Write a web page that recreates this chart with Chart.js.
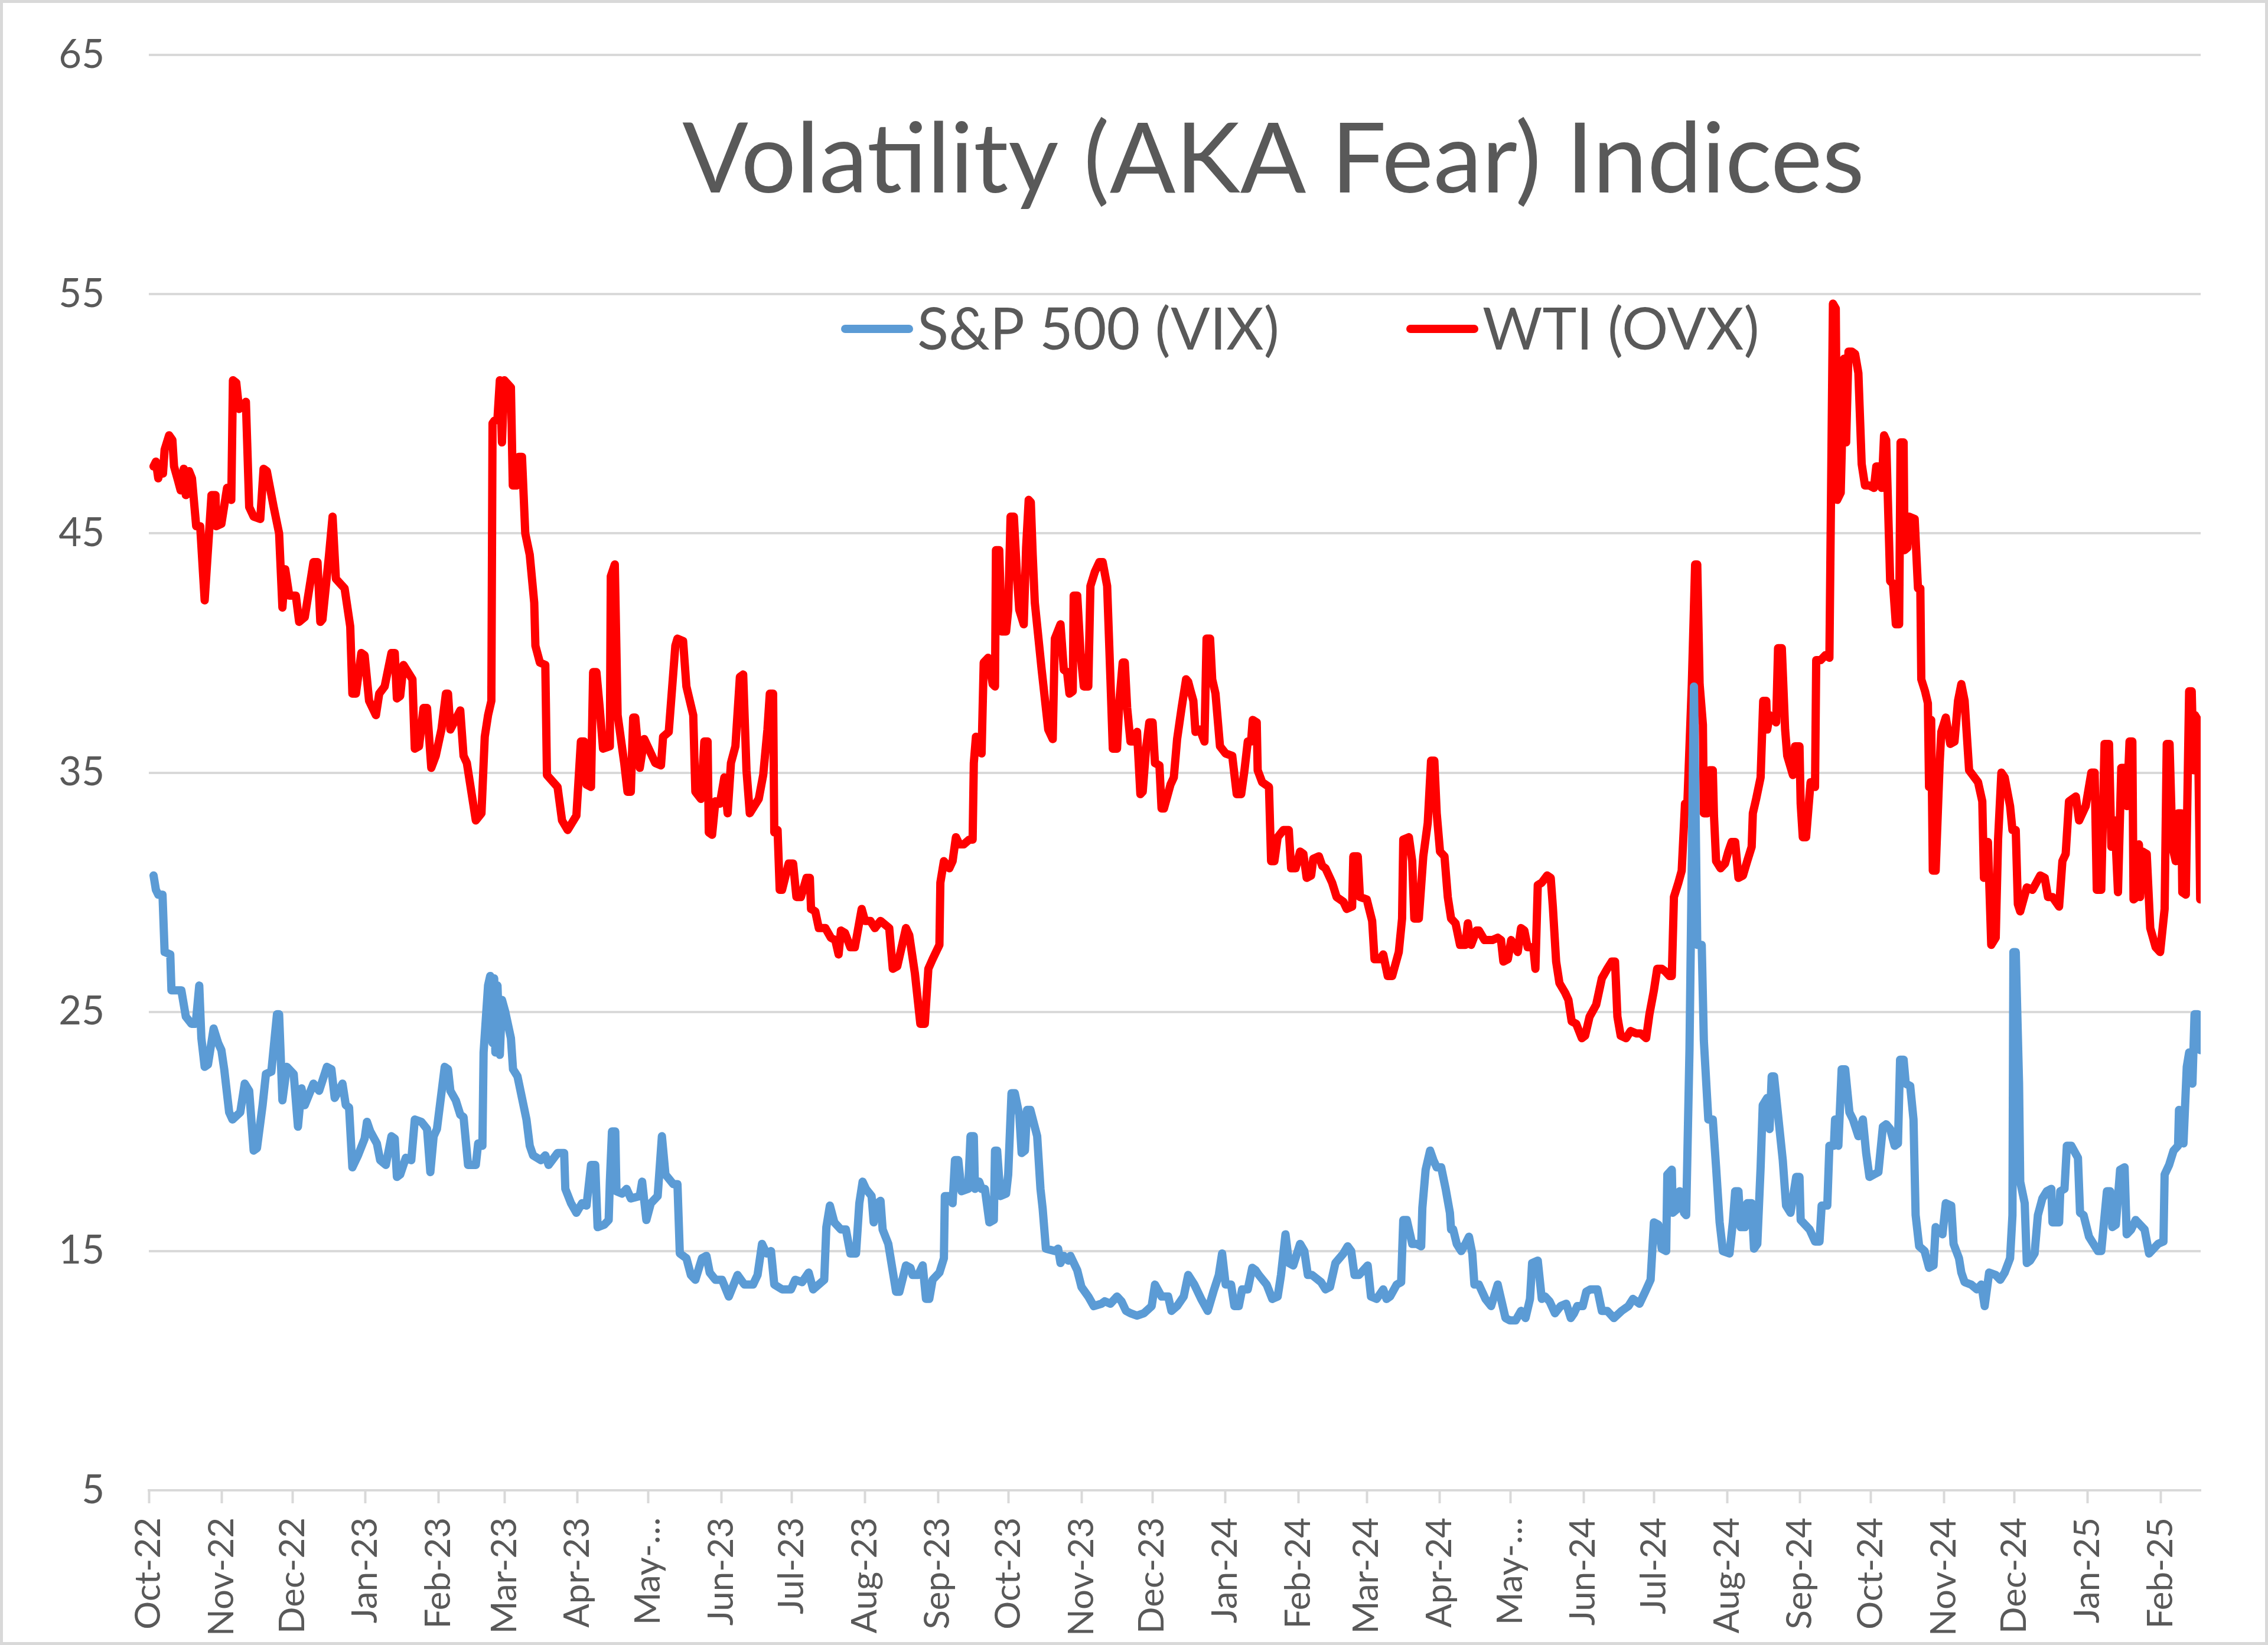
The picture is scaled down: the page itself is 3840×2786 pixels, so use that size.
<!DOCTYPE html>
<html>
<head>
<meta charset="utf-8">
<script src="https://cdn.jsdelivr.net/npm/chart.js@4/dist/chart.umd.min.js"></script>
<style>
  html, body { margin: 0; padding: 0; background: #fff; }
  canvas { display: block; }
</style>
</head>
<body>
<canvas id="volChart" width="3840" height="2786"></canvas>
<script>
// month tick labels, one per month starting Oct 2022 (Excel cut "May" labels short)
const monthLabels = [
  "Oct-22", "Nov-22", "Dec-22", "Jan-23", "Feb-23", "Mar-23", "Apr-23", "May-\u2026",
  "Jun-23", "Jul-23", "Aug-23", "Sep-23", "Oct-23", "Nov-23", "Dec-23", "Jan-24",
  "Feb-24", "Mar-24", "Apr-24", "May-\u2026", "Jun-24", "Jul-24", "Aug-24", "Sep-24",
  "Oct-24", "Nov-24", "Dec-24", "Jan-25", "Feb-25"
];

// x = days since 1 Oct 2022
const vixDays = [
  2, 3, 4, 5.8, 6.7, 9.1, 9.6, 13.8, 15.7, 18.1, 19.9, 21.4, 22.3, 23.7, 25.1, 27.5, 29.4, 30.8, 32, 34.1,
  35.5, 38.8, 40.7, 42.6, 44.5, 45.9, 48.3, 49.7, 52, 54.4, 55.3, 56.7, 58.6, 61.5, 63.3, 64.8, 66.2, 69.9, 72.3, 75.6,
  77.5, 78.9, 82.2, 83.6, 85, 86.4, 88.8, 91.6, 92.6, 94, 96.8, 98.2, 100.6, 103, 104.4, 105.3, 106.7, 109.1, 111.4, 112.9,
  115.7, 118.1, 119.5, 120.9, 122.3, 125.6, 127, 128, 130.3, 132.2, 133.6, 135.5, 138.8, 139.8, 141.6, 142.1, 144, 144.9, 145.9,
  146.6, 147.1, 148, 149, 149.9, 151.3, 153.7, 154.6, 156.5, 160.3, 161.7, 163.1, 166.4, 168.3, 169.7, 173.5, 176.3, 176.8, 179.2, 181.5,
  183.9, 185.8, 187.7, 189.5, 190.5, 193.3, 195.2, 195.7, 196.6, 198, 198.5, 200.9, 202.8, 204.6, 208.4, 209.4, 211.2, 213.1, 216, 217.8,
  219.3, 222.6, 224.4, 225.4, 228.2, 230.1, 232, 234.8, 236.7, 238.1, 240.5, 243.3, 246.2, 249.9, 252.8, 256.5, 258.4, 260.3, 262.2, 264.1,
  265.5, 268.8, 272.6, 274.4, 277.3, 280.1, 282, 286.7, 287.6, 289.1, 291, 293.8,
  295.9, 297.8, 300.2, 301.6, 303, 304.4, 306.8, 307.7, 309.2, 310.6, 311.5, 313.9, 317.2, 318.6, 321.4, 323.3, 324.2, 326.6, 328.5, 329.9,
  331.3, 332.7, 335.6, 337.5, 337.9, 339.8, 341.2, 342.2, 343.6, 345, 347.8, 348.8, 350.2, 350.7, 352.5, 353.5, 354.9, 356.8, 358.7, 359.2,
  360.1, 361.5, 363.9, 364.8, 366.2, 367.6, 369.5, 370.5, 371.9, 372.8, 374.2, 377.1, 378.5, 379.4, 380.8, 384.6, 386, 387, 388.4, 390.3,
  391.2, 394.1, 395.9, 398.8, 401.1, 404.4, 405.8, 408.2, 411, 412.9, 414.8, 416.7, 419.5, 422.4, 425.7, 427.1, 429.9, 432.7, 434.1, 436.5,
  439.3, 441.2,
  443.8, 446.7, 449.5, 451.9, 454.2, 455.6, 457.1, 459.4, 460.8, 462.7, 464.1, 466.5, 468.4, 469.8, 471.2, 474.5, 476.9, 479.2, 480.6, 482.5,
  484, 485.8, 488.7, 490.5, 492, 493.8, 497.6, 499.5, 501.4, 503.7, 507.1, 508.9, 510.4, 511.8, 513.7, 517.4, 518.8, 521.2, 524, 525.4,
  526.9, 529.7, 531.6, 532.5, 534, 535.4, 536.3, 538.2, 540.1, 540.6, 542, 543.9, 545.3, 546.7, 548.6, 550.5, 552.3, 552.8, 553.7, 555.2,
  557.1, 558.9, 560.4, 561.8, 562.7, 564.6, 567.4, 569.8, 572.6, 574, 575.9, 577.8, 580.2, 582.5, 584.4, 586.3, 587.2, 589.6,
  591.3, 592.7, 594.6, 596.9, 599.3, 601.7, 603.6, 605, 606.4, 608.7, 610.2, 612, 614.9, 616.8, 619.1, 621.9, 625.2, 628.1, 630, 632.8,
  635.2, 637.5, 638.9, 640.8, 642.2, 644.1, 644.6, 646.5, 646.9, 649.3, 649.8, 651.7, 652.6, 654, 655.9, 657.3, 659.2, 660.1, 662, 663.9,
  665.3, 666.8, 668.2, 671, 672.4, 673.4, 674.8, 675.7, 677.6, 678.5, 680.4, 681.4, 682.8, 684.2, 685.1, 687, 688, 688.9, 689.9, 691.8,
  693.6, 695, 696.9, 699.3, 700.7, 701.2, 705, 707.3, 709.2, 710.1, 712.5, 713.4, 715.3, 715.8, 717.2, 718.6, 720.1, 721.9, 723.4, 725.7,
  727.6, 729, 730.4, 732.3, 734.2, 736.1, 737.5,
  739.2, 741.1, 742.5, 743.4, 744.9, 745.8, 747.7, 749.1, 750, 751.5, 753.8, 755.7, 757.6, 758.5, 761.4, 762.8, 765.1, 766.1, 768.4, 769.4,
  770.8, 773.6, 776, 777.9, 779.3, 781.2, 784, 785.9, 787.8, 790.1, 791.1, 791.5, 792.5, 793.9, 794.4, 796.3, 797.2, 798.6, 800.5, 801.9,
  803.8, 805.7, 807.6, 808.1, 810.9, 811.4, 813.2, 814.2, 816.1, 818.9, 819.8, 821.3, 823.6, 827.4, 828.8, 831.2, 832.6, 833.5, 835, 836.8,
  838.7, 839.6, 841.5, 843.4, 847.2, 849.1, 852.9, 855.2, 855.7, 857.6, 859.5, 861.4, 861.8, 863.7, 865.1, 866.1, 867.5, 868.4, 869.8, 870.8
];
const vixValues = [
  30.7, 30.1, 29.9, 29.9, 27.5, 27.4, 25.9, 25.9, 24.8, 24.5, 24.5, 26.1, 23.9, 22.7, 22.8, 24.3, 23.7, 23.4, 22.6, 20.8,
  20.5, 20.8, 22.0, 21.7, 19.2, 19.3, 21.1, 22.4, 22.5, 24.9, 24.9, 21.3, 22.7, 22.4, 20.2, 21.8, 21.1, 22.0, 21.7, 22.7,
  22.6, 21.4, 22.0, 21.1, 21.0, 18.5, 19.0, 19.7, 20.4, 20.0, 19.5, 18.8, 18.6, 19.8, 19.7, 18.1, 18.2, 18.9, 18.8, 20.5,
  20.4, 20.1, 18.3, 19.8, 20.1, 22.7, 22.6, 21.7, 21.3, 20.7, 20.6, 18.6, 18.6, 19.5, 19.4, 23.3, 26.1, 26.5, 23.7,
  26.4, 23.3, 26.1, 23.2, 25.5, 25.0, 23.9, 22.6, 22.3, 20.5, 19.4, 19.0, 18.8, 19.0, 18.6, 19.1, 19.1, 17.6, 17.0, 16.6,
  17.0, 16.9, 18.6, 18.6, 16.0, 16.1, 16.3, 17.9, 20.0, 20.0, 17.5, 17.4, 17.6, 17.2, 17.3, 17.9, 16.3, 17.0, 17.3, 19.8,
  18.2, 17.8, 17.8, 14.9, 14.7, 14.0, 13.8, 14.7, 14.8, 14.1, 13.8, 13.8, 13.1, 14.0, 13.6, 13.6, 14.0, 15.3, 14.9, 15.0,
  13.6, 13.4, 13.4, 13.8, 13.7, 14.1, 13.4, 13.8, 16.0, 16.9, 16.2, 15.9,
  15.9, 14.9, 14.9, 17.0, 17.9, 17.6, 17.3, 16.2, 17.0, 17.1, 15.9, 15.3, 13.3, 13.3, 14.4, 14.3, 14.0, 14.0, 14.4, 13.0,
  13.0, 13.8, 14.1, 14.7, 17.3, 17.3, 17.0, 18.8, 18.8, 17.5, 17.6, 19.8, 19.8, 17.6, 17.9, 17.6, 17.6, 16.2, 16.3, 19.2,
  19.2, 17.3, 17.4, 18.2, 21.6, 21.6, 20.7, 19.1, 19.2, 20.9, 20.9, 19.8, 17.6, 16.8, 15.1, 15.0, 15.1, 14.5, 14.8, 14.6,
  14.8, 14.2, 13.5, 13.1, 12.7, 12.8, 12.9, 12.8, 13.1, 12.9, 12.5, 12.4, 12.3, 12.4, 12.7, 13.6, 13.1, 13.1, 12.5, 12.7,
  13.1, 14.0,
  13.6, 13.0, 12.5, 13.3, 14.0, 14.9, 13.6, 13.6, 12.7, 12.7, 13.4, 13.4, 14.3, 14.2, 14.0, 13.6, 13.0, 13.1, 14.0, 15.7,
  14.5, 14.4, 15.3, 15.0, 14.0, 14.0, 13.7, 13.4, 13.5, 14.5, 14.9, 15.2, 15.0, 14.0, 14.0, 14.4, 13.1, 13.0, 13.4, 13.0,
  13.1, 13.6, 13.7, 16.3, 16.3, 15.7, 15.3, 15.3, 15.2, 16.8, 18.4, 19.2, 18.8, 18.5, 18.5, 17.6, 16.6, 15.9, 15.9, 15.3,
  15.0, 15.3, 15.6, 14.9, 13.6, 13.6, 13.0, 12.7, 13.6, 13.0, 12.2, 12.1, 12.1, 12.5, 12.2, 13.0, 14.5, 14.6,
  13.0, 13.1, 12.9, 12.4, 12.7, 12.8, 12.2, 12.4, 12.7, 12.7, 13.3, 13.4, 13.4, 12.5, 12.5, 12.2, 12.5, 12.7, 13.0, 12.8,
  13.3, 13.8, 16.2, 16.1, 15.1, 15.0, 18.2, 18.4, 16.6, 16.8, 17.5, 16.6, 16.5, 23.4, 38.6, 27.8, 27.8, 23.8, 20.5, 20.5,
  18.5, 16.2, 15.0, 14.9, 16.2, 17.5, 17.5, 16.0, 16.0, 17.0, 17.0, 15.1, 15.3, 18.5, 21.1, 21.4, 20.1, 22.3, 22.3, 20.5,
  18.8, 16.9, 16.6, 18.1, 18.1, 16.3, 15.9, 15.4, 15.4, 16.9, 16.9, 19.4, 19.4, 20.5, 19.4, 22.6, 22.6, 20.8, 20.5, 19.8,
  20.5, 19.1, 18.1, 18.2, 18.3, 20.2, 20.3,
  20.1, 19.4, 19.5, 23.0, 23.0, 22.0, 21.9, 20.5, 16.5, 15.2, 15.0, 14.3, 14.4, 16.0, 15.7, 17.0, 16.9, 15.3, 14.7, 14.1,
  13.7, 13.6, 13.4, 13.6, 12.7, 14.1, 14.0, 13.8, 14.1, 14.7, 16.5, 27.5, 27.5, 22.0, 17.9, 17.0, 14.5, 14.6, 14.9, 16.5,
  17.2, 17.5, 17.6, 16.2, 16.2, 17.5, 17.6, 19.4, 19.4, 18.9, 16.6, 16.5, 15.6, 15.0, 15.0, 17.5, 17.5, 16.0, 16.1, 18.4,
  18.5, 15.7, 15.9, 16.3, 15.9, 14.9, 15.3, 15.4, 18.2, 18.6, 19.2, 19.4, 20.9, 19.5, 22.7, 23.3, 22.0, 24.9, 24.9, 23.4
];

const ovxDays = [
  2, 3, 4, 5, 6, 6.7, 8.6, 10, 10.7, 12.4, 13.5, 14.8, 15.7, 17.1, 18.3, 20.1, 21.8, 23.7, 26.6, 28.3,
  28.6, 30.8, 33.2, 35, 35.7, 37.1, 38.3, 41.2, 42.6, 44.5, 47.3, 48.7, 50.1, 53, 55.3, 56.7, 57.9, 59.6, 62.4, 63.8,
  66.2, 69.9, 71.6, 72.8, 73.7, 76.5, 78, 79.4, 83.1, 85.5, 86.4, 87.9, 90.2, 91.6, 93.5, 96.4, 97.8, 100.1, 103, 104.4,
  105.3, 106.7, 108.1, 111.9, 112.9, 114.7, 116.6, 118.1, 119.9, 121.8, 124.2, 126.1, 127, 128, 132.2, 133.6, 135, 138.8, 141.2, 142.6,
  144, 145.4, 145.9,
  146.6, 148, 149, 149.9, 150.9, 153.7, 154.5, 156.1, 157, 158.4, 159.8, 161.7, 163.6, 164.1, 166, 168.3, 169, 173.5, 175.4, 177.8,
  181.5, 183.4, 184.8, 185.8, 187.7, 188.6, 190, 191.4, 192.8, 195.7, 196.1, 197.8, 199, 201.8, 203.2, 204.6, 205.6, 206.5, 208.4, 210.3,
  212.2, 215, 217.4, 218.3, 220.7, 223.5, 224.4, 226.8, 228.2, 231.1, 232, 234.4, 235.8, 237.2, 237.7, 239.1, 240.5, 242.4, 244.3, 245.7,
  247.1, 249, 250.9, 252.3, 253.7, 255.1, 258.9, 260.8, 262.6, 263.6, 265, 265.5, 266.9, 267.8, 268.8, 271.6, 273.5, 274.9, 276.8, 279.2,
  280.6, 281.1, 282.9, 284.4, 287.2, 289.5, 291.4, 292.8, 293.8,
  295.5, 297.8, 299.7, 302.6, 304, 306.3, 308.2, 310.6, 314.3, 315.8, 317.7, 321.4, 322.8, 325.2, 327.5, 329.4, 330.9, 332.7, 335.6, 336,
  337.5, 339.8, 341.2, 342.6, 344.1, 345.9, 348.3, 349.7, 350.2, 351.1, 353.5, 354.4, 356.3, 358.2, 359.2, 359.6, 361, 362, 363.9, 364.8,
  365.8, 367.2, 368.6, 369.5, 371.4, 372.4, 373.5, 374.4, 375.2, 376.1, 379, 381.8, 383.7, 384.6, 387, 388.4, 389.8, 390.8, 392.2, 392.6,
  394.1, 395.5, 396.9, 398.8, 399.7, 401.6, 403.5, 404.9, 406.8, 408.2, 409.2, 411, 412, 413.4, 414.3, 415.3, 416.7, 418.6, 419.5, 420.9,
  421.9, 423.3, 424.7, 426.1, 427.1, 429, 429.9, 430.9, 433.7, 435.1, 436.5, 438.4, 440.3, 441.2, 442,
  443.4, 444.3, 446.2, 448.1, 449, 450.5, 451.4, 452.8, 454.7, 457.1, 459.9, 461.8, 463.7, 465.1, 466.5, 467.9, 468.6, 470.3, 470.7, 472.6,
  475.5, 476.4, 477.8, 479.2, 481.6, 483.9, 484.9, 486.8, 488.7, 490.1, 491.5, 493.4, 494.3, 496.7, 498.1, 499.5, 502.3, 504.2, 507.1, 508.5,
  510.8, 511.3, 513.2, 514.1, 517, 519.3, 520.3, 522.6, 524, 525.9, 527.8, 530.6, 532, 532.5, 534.9, 536.3, 537.2, 539.1, 541, 542.9,
  544.3, 545.7, 546.7, 548.1, 550, 551.4, 552.8, 554.7, 556.6, 558.9, 559.9, 561.3, 563.6, 564.6, 567, 570.3, 572.6, 574, 575, 576.9,
  578.3, 581.1, 582.5, 583.9, 585.3, 587.7, 588.6, 589.6,
  591.3, 593.6, 595.1, 596, 597.4, 598.8, 601.2, 602.6, 604, 605.9, 608.3, 609.7, 611.6, 614.4, 616.8, 619.1, 621, 622.4, 623.4, 624.8,
  627.1, 629, 631.4, 633.3, 635.6, 637, 638.9, 640.3, 642.2, 643.6, 645.5, 646.5, 647.4, 649.3, 650.7, 652.1, 653.1, 655, 656.4, 657.3,
  658.3, 659.7, 660.1, 661.6, 662.5, 663.9, 664.4, 665.3, 667.2, 669.1, 670.5, 671.9, 673.4, 674.8, 676.7, 678.5, 680.4, 680.9, 682.3, 684.2,
  685.3, 686.6, 687, 688, 690.8, 691.6, 693.2, 694.6, 695.5, 697.9, 698.8, 700.7, 701.2, 702.1, 703.5, 705.4, 707.3, 707.8, 709.7, 711.6,
  713.4, 714.9, 716.1, 716.7, 718.2, 719.6, 720.5, 721.5, 722.9, 724.3, 725.7, 727.1, 728.5, 730.4, 732.3, 733.3, 734.2, 735.6, 736.6, 737.5,
  739.2, 740.4, 741.6, 743, 743.6, 744.9, 745.3, 746.5, 747.2, 749.6, 751, 752, 752.4, 754, 755.2, 755.7, 756.6, 757.3, 758.5, 760.2,
  760.9, 762.8, 764.7, 766.5, 768, 769.4, 770.8, 772.7, 776.5, 778.3, 779, 780.7, 782.1, 784, 785, 786.4, 787.8, 790.1, 791.1, 792.5,
  793.4, 794.4, 797.2, 799.6, 802.9, 804.8, 806.2, 808.1, 810.9, 812.3, 813.7, 815.1, 818, 819.4, 822.2, 824.6, 826, 826.9, 828.8, 830.2,
  832.1, 833.1, 834.5, 835.9, 837.3, 839.2, 839.7, 840.8, 842, 842.5, 843.9, 844.8, 845.3, 846.3, 848.1, 849.6, 851.9, 853.8, 855.7, 856.6,
  857.8, 859, 860.4, 861.4, 862.8, 863.2, 864.7, 866.1, 867.2, 868, 868.6, 869.8, 870.8
];
const ovxValues = [
  47.8, 48.0, 47.3, 47.7, 47.5, 48.5, 49.1, 48.9, 47.8, 47.2, 46.8, 47.7, 46.6, 47.6, 47.3, 45.3, 45.3, 42.2, 46.6, 46.6,
  45.3, 45.4, 46.9, 46.4, 51.4, 51.3, 50.2, 50.5, 46.1, 45.7, 45.6, 47.7, 47.6, 46.1, 45.0, 41.9, 43.5, 42.4, 42.4, 41.3,
  41.5, 43.8, 43.8, 41.3, 41.4, 44.1, 45.7, 43.1, 42.7, 41.1, 38.3, 38.3, 40.0, 39.9, 38.0, 37.4, 38.3, 38.6, 40.0, 40.0,
  38.1, 38.2, 39.5, 38.9, 36.0, 36.1, 37.7, 37.7, 35.2, 35.7, 36.8, 38.3, 38.3, 36.8, 37.6, 35.7, 35.4, 33.0, 33.3, 36.5,
  37.4, 38.0, 49.6,
  49.7, 49.8, 51.4, 48.8, 51.4, 51.1, 47.0, 47.0, 48.2, 48.2, 45.0, 44.1, 42.1, 40.3, 39.6, 39.5, 34.9, 34.4, 33.0, 32.6,
  33.2, 36.3, 36.3, 34.5, 34.4, 39.2, 39.2, 37.7, 36.0, 36.1, 43.2, 43.7, 37.4, 35.4, 34.2, 34.2, 37.3, 37.3, 35.2, 36.4,
  36.0, 35.4, 35.3, 36.5, 36.7, 40.3, 40.6, 40.5, 38.6, 37.4, 34.2, 33.9, 36.3, 36.3, 32.5, 32.4, 33.8, 33.7, 34.8, 33.3,
  35.4, 36.1, 39.0, 39.1, 35.1, 33.3, 33.9, 34.9, 36.8, 38.3, 38.3, 32.5, 32.6, 30.1, 30.1, 31.2, 31.2, 29.8, 29.8, 30.6,
  30.6, 29.3, 29.2, 28.5, 28.5, 28.1, 28.0, 27.4, 28.4,
  28.3, 27.7, 27.7, 29.3, 28.8, 28.8, 28.5, 28.8, 28.5, 26.8, 26.9, 28.5, 28.2, 26.6, 24.5, 24.5, 26.8, 27.2, 27.8, 30.4,
  31.3, 31.0, 31.3, 32.3, 32.0, 32.0, 32.2, 32.2, 35.4, 36.5, 35.8, 39.6, 39.8, 38.7, 38.6, 44.3, 44.3, 40.9, 40.9, 41.8,
  45.7, 45.7, 43.1, 41.8, 41.2, 44.4, 46.4, 46.3, 44.1, 42.1, 39.3, 36.8, 36.4, 40.6, 41.2, 39.3, 39.2, 38.3, 38.4, 42.4,
  42.4, 40.0, 38.6, 38.6, 42.8, 43.4, 43.8, 43.8, 42.8, 38.9, 36.0, 36.0, 38.0, 39.6, 39.6, 37.7, 36.3, 36.3, 36.7, 34.1,
  34.2, 36.0, 37.1, 37.1, 35.4, 35.3, 33.5, 33.5, 34.5, 34.8, 36.4, 37.7, 38.9, 38.8, 38.5,
  38.0, 36.7, 36.8, 36.3, 40.6, 40.6, 38.9, 38.3, 36.1, 35.8, 35.7, 34.1, 34.1, 35.1, 36.3, 36.3, 37.2, 37.1, 35.1, 34.6,
  34.4, 31.3, 31.3, 32.3, 32.6, 32.6, 31.0, 31.0, 31.7, 31.6, 30.6, 30.7, 31.4, 31.5, 31.1, 31.0, 30.4, 29.8, 29.6, 29.3,
  29.4, 31.5, 31.5, 29.8, 29.7, 28.8, 27.2, 27.2, 27.4, 26.5, 26.5, 27.5, 28.9, 32.2, 32.3, 31.3, 28.9, 28.9, 31.5, 32.9,
  35.5, 35.5, 33.3, 31.7, 31.5, 29.8, 28.9, 28.7, 27.8, 27.8, 28.7, 27.8, 28.4, 28.4, 28.0, 28.0, 28.1, 28.0, 27.1, 27.2,
  28.0, 27.5, 28.5, 28.4, 27.7, 27.7, 26.8, 30.3,
  30.4, 30.7, 30.6, 29.4, 27.1, 26.2, 25.8, 25.5, 24.6, 24.5, 23.9, 24.0, 24.8, 25.3, 26.4, 26.8, 27.1, 27.1, 24.8, 24.0,
  23.9, 24.2, 24.1, 24.1, 23.9, 24.9, 25.9, 26.8, 26.8, 26.7, 26.5, 26.5, 29.8, 30.4, 30.9, 33.7, 33.7, 38.7, 43.7, 43.7,
  38.7, 37.0, 33.3, 33.3, 35.1, 35.1, 33.2, 31.3, 31.0, 31.2, 31.7, 32.1, 32.1, 30.6, 30.7, 31.3, 31.9, 33.3, 33.9, 34.8,
  38.0, 38.0, 36.8, 37.4, 37.1, 40.2, 40.2, 36.8, 35.7, 34.9, 36.1, 36.1, 33.7, 32.3, 32.3, 34.6, 34.4, 39.7, 39.7, 39.9,
  39.8, 54.6, 54.4, 46.4, 46.7, 52.3, 48.8, 52.6, 52.6, 52.5, 51.7, 47.9, 47.0, 47.0, 46.9, 47.8, 47.8, 46.9, 49.1, 48.9,
  43.0, 42.9, 41.2, 41.2, 48.8, 48.8, 44.3, 44.4, 45.7, 45.6, 42.7, 42.7, 38.9, 38.4, 37.9, 34.4, 37.2, 30.9, 30.9, 35.4,
  36.7, 37.3, 36.2, 36.3, 38.0, 38.7, 38.0, 35.1, 34.6, 33.8, 30.6, 32.1, 27.8, 28.1, 32.2, 35.0, 34.8, 33.6, 32.6, 32.6,
  29.5, 29.2, 30.2, 30.1, 30.7, 30.6, 29.8, 29.8, 29.4, 31.3, 31.6, 33.8, 34.0, 33.0, 33.6, 35.0, 35.0, 30.1, 30.1, 36.2,
  36.2, 31.9, 33.0, 30.0, 35.2, 35.2, 33.6, 36.3, 36.3, 29.7, 29.8, 32.0, 29.8, 31.7, 31.6, 28.5, 27.7, 27.5, 29.3, 36.2,
  36.2, 31.9, 31.3, 33.3, 33.3, 30.0, 29.9, 38.4, 38.4, 35.1, 37.4, 37.2, 29.7
];

const yMin = 5;
const yMax = 65;
const yStep = 10;
const xMaxDay = 871;

const DAY_MS = 86400000;
const startMs = Date.UTC(2022, 9, 1);
const monthTickDays = monthLabels.map((_, i) => (Date.UTC(2022, 9 + i, 1) - startMs) / DAY_MS);

const toPoints = (days, vals) => days.map((d, i) => ({ x: d, y: vals[i] }));

const TEXT_GREY = "#595959";
const GRID_GREY = "#D9D9D9";
const LINE_W = 14;

// title + legend sit inside the plot area like the Excel original, plus the outer frame
const chartDecor = {
  id: "chartDecor",
  beforeDraw(chart) {
    const ctx = chart.ctx;
    ctx.save();
    ctx.fillStyle = "#ffffff";
    ctx.fillRect(0, 0, chart.width, chart.height);
    ctx.restore();
  },
  afterDraw(chart) {
    const ctx = chart.ctx;
    ctx.save();

    ctx.fillStyle = TEXT_GREY;
    ctx.font = "165px Lato";
    ctx.textAlign = "center";
    ctx.textBaseline = "alphabetic";
    ctx.fillText("Volatility (AKA Fear) Indices", 2156, 326);

    const legendX = [1431, 2388];
    ctx.font = "98px Lato";
    ctx.textAlign = "left";
    chart.data.datasets.forEach((ds, i) => {
      const x0 = legendX[i];
      ctx.strokeStyle = ds.borderColor;
      ctx.lineWidth = ds.borderWidth;
      ctx.lineCap = "round";
      ctx.beginPath();
      ctx.moveTo(x0, 557);
      ctx.lineTo(x0 + 108, 557);
      ctx.stroke();
      ctx.fillStyle = TEXT_GREY;
      ctx.fillText(ds.label, x0 + 122, 592);
    });

    ctx.strokeStyle = GRID_GREY;
    ctx.lineWidth = 5;
    ctx.strokeRect(2.5, 2.5, chart.width - 5, chart.height - 5);
    ctx.restore();
  }
};

Chart.defaults.font.family = "Lato";
Chart.defaults.color = TEXT_GREY;

new Chart(document.getElementById("volChart"), {
  type: "line",
  data: {
    datasets: [
      {
        label: "S&P 500 (VIX)",
        data: toPoints(vixDays, vixValues),
        borderColor: "#5B9BD5",
        borderWidth: LINE_W,
        pointRadius: 0,
        tension: 0,
        borderJoinStyle: "round",
        borderCapStyle: "round"
      },
      {
        label: "WTI (OVX)",
        data: toPoints(ovxDays, ovxValues),
        borderColor: "#FF0000",
        borderWidth: LINE_W,
        pointRadius: 0,
        tension: 0,
        borderJoinStyle: "round",
        borderCapStyle: "round"
      }
    ]
  },
  options: {
    responsive: false,
    animation: false,
    events: [],
    layout: { padding: { top: 93, right: 114, left: 0, bottom: 0 } },
    plugins: {
      legend: { display: false },
      title: { display: false },
      tooltip: { enabled: false }
    },
    scales: {
      x: {
        type: "linear",
        min: 0,
        max: xMaxDay,
        afterFit: (scale) => {
          scale.height = 262;
          scale.paddingLeft = 0;
          scale.paddingRight = 0;
        },
        afterBuildTicks: (scale) => {
          scale.ticks = monthTickDays.map((v) => ({ value: v }));
        },
        ticks: {
          autoSkip: false,
          minRotation: 90,
          maxRotation: 90,
          padding: 24,
          color: TEXT_GREY,
          font: { size: 60 },
          callback: (value, index) => monthLabels[index]
        },
        grid: {
          drawOnChartArea: false,
          drawTicks: true,
          tickLength: 22,
          tickWidth: 4,
          tickColor: GRID_GREY
        },
        border: { display: true, color: GRID_GREY, width: 4 }
      },
      y: {
        min: yMin,
        max: yMax,
        afterFit: (scale) => {
          scale.width = 252;
          // tick padding would otherwise push the plot top down
          scale.paddingTop = 0;
          scale.paddingBottom = 0;
        },
        ticks: {
          stepSize: yStep,
          padding: 75,
          color: TEXT_GREY,
          font: { size: 67 }
        },
        grid: {
          color: GRID_GREY,
          lineWidth: 4,
          drawTicks: false
        },
        border: { display: false }
      }
    }
  },
  plugins: [chartDecor]
});
</script>
</body>
</html>
